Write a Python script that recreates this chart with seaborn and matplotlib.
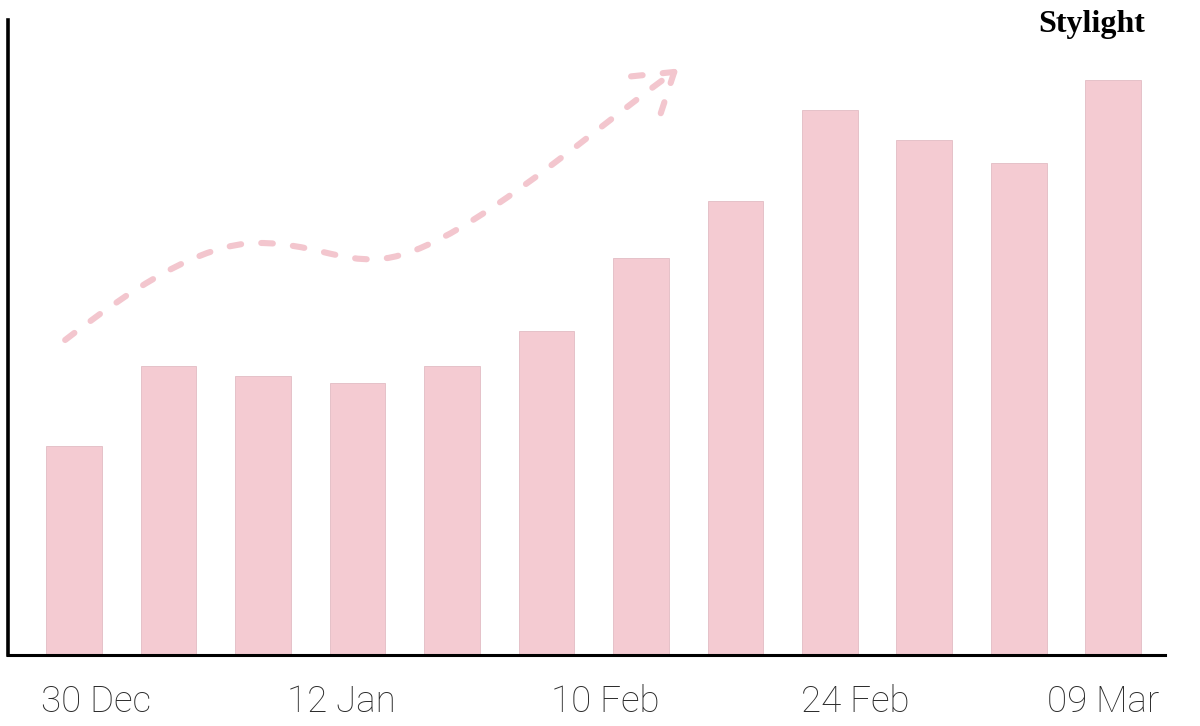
import numpy as np
import pandas as pd
import matplotlib
matplotlib.use("Agg")
import matplotlib.pyplot as plt
from matplotlib.path import Path
from matplotlib.patches import PathPatch
import seaborn as sns

# Data (bar heights, relative units)
weeks = ["w01", "w02", "w03", "w04", "w05", "w06",
         "w07", "w08", "w09", "w10", "w11", "w12"]
values = [209, 289, 279, 272, 289, 324, 397, 454, 545, 515, 492, 575]
tick_labels = ["30 Dec", "12 Jan", "10 Feb", "24 Feb", "09 Mar"]
tick_pos = [0.23, 2.83, 5.62, 8.27, 10.89]

df = pd.DataFrame({"week": weeks, "value": values})

sns.set_theme(style="white")
pink = "#f4cbd2"

fig = plt.figure(figsize=(12, 7.26), dpi=100)
ax = fig.add_axes([0.0067, 0.0978, 0.9643, 0.8747])

sns.barplot(data=df, x="week", y="value", color=pink, width=0.59,
            saturation=1, edgecolor="#e2bcc4", linewidth=0.6, ax=ax)

ax.set_xlim(-0.70, 11.55)
ax.set_ylim(0, 635)
ax.set_xlabel("")
ax.set_ylabel("")
ax.set_yticks([])
ax.set_xticks(tick_pos)
ax.set_xticklabels(tick_labels, fontsize=26.5, color="#2b2b2b",
                   fontfamily="Roboto", fontweight="light")
ax.tick_params(axis="x", length=0, pad=21)

for side in ["top", "right"]:
    ax.spines[side].set_visible(False)
ax.spines["left"].set_color("black")
ax.spines["left"].set_linewidth(2.6)
ax.spines["bottom"].set_color("black")
ax.spines["bottom"].set_linewidth(2.2)


# hand-drawn style dashed trend arrow (pixel-ish coordinates -> data)
def to_data(px, py):
    return ((px - 74) / 94.45, 655 - py)


arrow_style = dict(color="#f3c6ce", lw=4.4, linestyle=(0, (1.9, 3.3)))
pts = [(65, 340), (130, 290), (200, 243), (258, 243),
       (310, 243), (340, 262), (378, 259),
       (450, 256), (580, 140), (668, 76)]
codes = [Path.MOVETO] + [Path.CURVE4] * 9
path = Path([to_data(*p) for p in pts], codes)
ax.add_patch(PathPatch(path, fill=False, edgecolor=arrow_style["color"],
                       lw=arrow_style["lw"], linestyle=arrow_style["linestyle"],
                       capstyle="round"))
tip = to_data(674, 72)
for wing in [(625, 77), (659, 118)]:
    w = to_data(*wing)
    ax.plot([tip[0], w[0]], [tip[1], w[1]], solid_capstyle="round",
            dash_capstyle="round", **arrow_style)

fig.text(0.9545, 0.966, "Stylight", ha="right", va="center", fontsize=23,
         fontweight="bold", fontfamily="Liberation Serif", color="black")

fig.savefig("out.png", dpi=100, facecolor="white")
